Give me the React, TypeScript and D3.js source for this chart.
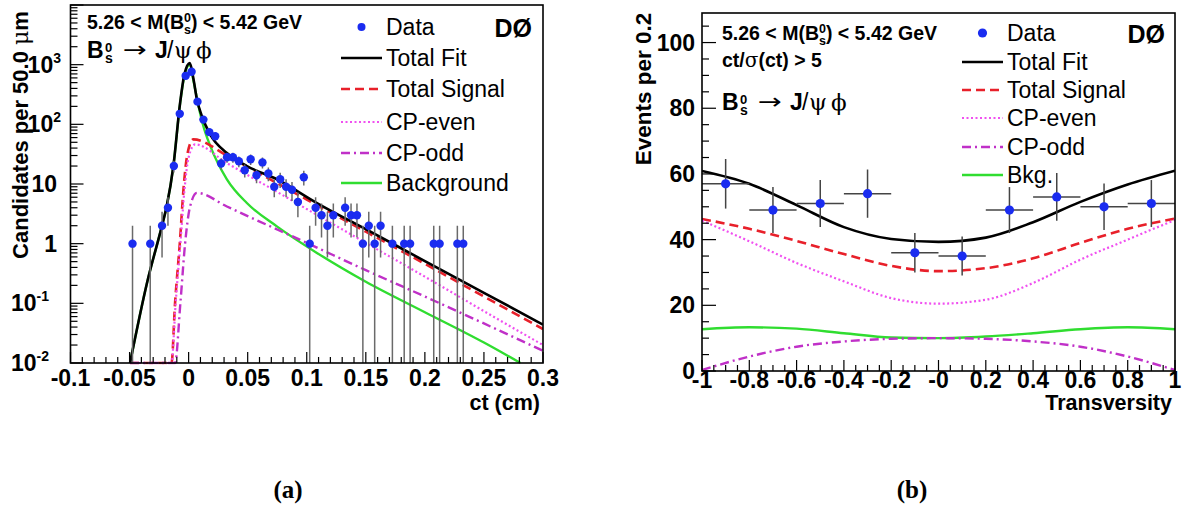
import * as d3 from 'd3';
import React from 'react';

// (a) proper decay length, 50 um bins
const ctBins = [-0.0475, -0.0325, -0.0225, -0.0175, -0.0125, -0.0075, -0.0025, 0.0025, 0.0075, 0.0125, 0.0175, 0.0225, 0.0275, 0.0325, 0.0375, 0.0425, 0.0475, 0.0525, 0.0575, 0.0625, 0.0675, 0.0725, 0.0775, 0.0825, 0.0875, 0.0925, 0.0975, 0.1025, 0.1075, 0.1125, 0.1175, 0.1225, 0.1325, 0.1375, 0.1425, 0.1475, 0.1525, 0.1575, 0.1625, 0.1725, 0.1825, 0.1875, 0.2075, 0.2125, 0.2275, 0.2325];
const ctCounts = [1, 1, 2, 4, 20, 150, 650, 760, 240, 120, 74, 63, 22, 28, 28, 24, 17, 26, 14, 23, 15, 9, 12, 9, 8, 5, 13, 1, 4, 3, 2, 3, 4, 3, 3, 1, 2, 1, 2, 1, 1, 1, 1, 1, 1, 1];

const fitCt = [-0.0496, -0.035, -0.0227, -0.0185, -0.0129, -0.0072, -0.0035, 0.001, 0.0041, 0.007, 0.0112, 0.0182, 0.0324, 0.0493, 0.0747, 0.1086, 0.15, 0.2, 0.25, 0.3];
const fitVal = [0.01, 0.23, 1.95, 4.3, 20, 230, 700, 1060, 575, 263, 138, 68, 33, 20, 12, 4.8, 1.75, 0.51, 0.15, 0.044];
const sigCt = [-0.0496, -0.0145, -0.0115, -0.0075, -0.004, -0.001, 0.004, 0.0324, 0.05, 0.1, 0.15, 0.2, 0.25, 0.3];
const sigVal = [0.01, 0.01, 0.1, 1, 10, 32, 56, 30, 19.3, 5.5, 1.59, 0.46, 0.13, 0.037];
const evenCt = [-0.0496, -0.0145, -0.011, -0.007, -0.0035, 0, 0.0055, 0.0324, 0.0747, 0.1, 0.15, 0.2, 0.25, 0.3];
const evenVal = [0.01, 0.01, 0.1, 1, 8, 28, 46, 22.4, 7.4, 3.8, 1.03, 0.28, 0.074, 0.02];
const oddCt = [-0.0496, -0.0115, -0.007, -0.003, 0.001, 0.007, 0.0324, 0.05, 0.1, 0.15, 0.2, 0.25, 0.3];
const oddVal = [0.01, 0.01, 0.1, 1, 4, 7.1, 4.2, 2.9, 1.03, 0.36, 0.13, 0.046, 0.016];
const bkgCt = [-0.0496, -0.035, -0.0227, -0.0185, -0.0129, -0.0072, -0.0035, 0.001, 0.0041, 0.0083, 0.0125, 0.0182, 0.0324, 0.0493, 0.0747, 0.1086, 0.15, 0.2, 0.25, 0.2809];
const bkgVal = [0.01, 0.23, 1.95, 4.3, 20, 225, 660, 1000, 540, 205, 93, 44, 12, 4.8, 1.95, 0.7, 0.23, 0.071, 0.022, 0.01];

const ctTicks = [-0.1, -0.05, 0, 0.05, 0.1, 0.15, 0.2, 0.25, 0.3];
const ctTickLabels = ['-0.1', '-0.05', '0', '0.05', '0.1', '0.15', '0.2', '0.25', '0.3'];

// (b) transversity
const trBins = [-0.9, -0.7, -0.5, -0.3, -0.1, 0.1, 0.3, 0.5, 0.7, 0.9];
const trCounts = [57, 49, 51, 54, 36, 35, 49, 53, 50, 51];
const trCurveX = [-1, -0.8, -0.6, -0.4, -0.2, 0, 0.2, 0.4, 0.6, 0.8, 1];
const trFit = [60.9, 57, 50.5, 43.8, 40.2, 39.3, 40.6, 45.3, 51.5, 56.8, 61];
const trSignal = [46.3, 43.3, 39.6, 35.6, 32, 30.4, 31.3, 34.3, 39, 43.3, 46.4];
const trEven = [45.8, 39.5, 32.9, 27.3, 22.2, 20.5, 21.7, 26.8, 33.9, 40, 46];
const trOdd = [0.3, 4.4, 7.4, 9, 9.8, 10, 9.8, 9, 7.4, 4.4, 0.3];
const trBkg = [12.7, 13.3, 12.9, 11.5, 10.2, 10, 10.5, 11.5, 12.7, 13.3, 12.7];

const trTicks = [-1, -0.8, -0.6, -0.4, -0.2, 0, 0.2, 0.4, 0.6, 0.8, 1];
const trTickLabels = ['-1', '-0.8', '-0.6', '-0.4', '-0.2', '-0', '0.2', '0.4', '0.6', '0.8', '1'];
const evTicks = [0, 20, 40, 60, 80, 100];

const legendLeft = ['Data', 'Total Fit', 'Total Signal', 'CP-even', 'CP-odd', 'Background'];
const legendRight = ['Data', 'Total Fit', 'Total Signal', 'CP-even', 'CP-odd', 'Bkg.'];

const SANS = "'Liberation Sans', Arial, Helvetica, sans-serif";
const SERIF = "'Liberation Serif', 'Times New Roman', serif";
const GREEK = "'DejaVu Serif', 'Liberation Serif', serif";
const DOT = '#1a2cf0';

const sty = {
  fit: { stroke: '#000', dash: undefined, w: 2.6 },
  sig: { stroke: '#e8202a', dash: '9,5', w: 2.6 },
  even: { stroke: '#f050f0', dash: '2,2.5', w: 2.2 },
  odd: { stroke: '#c030c8', dash: '9,4,2,4', w: 2.4 },
  bkg: { stroke: '#30dd30', dash: undefined, w: 2.4 },
};
// drawing order: bkg, signal, even, odd, fit on top
const drawStyle = [sty.bkg, sty.sig, sty.even, sty.odd, sty.fit];
const legendStyle = [sty.fit, sty.sig, sty.even, sty.odd, sty.bkg];

const zip = (a: number[], b: number[]) => a.map((v, i) => [v, b[i]] as [number, number]);

function Mass({ x, y }: { x: number; y: number }) {
  return (
    <text x={x} y={y} fontFamily={SANS} fontWeight="bold" fontSize={19.5}>
      5.26 &lt; M(B<tspan dy={-7} fontSize={12.5}>0</tspan>
      <tspan dx={-7} dy={12} fontSize={12.5}>s</tspan>
      <tspan dy={-5}>) &lt; 5.42 GeV</tspan>
    </text>
  );
}

function Decay({ x, y }: { x: number; y: number }) {
  return (
    <g fontWeight="bold">
      <text x={x} y={y} fontFamily={SANS} fontSize={23}>B</text>
      <text x={x + 18} y={y - 6} fontFamily={SANS} fontSize={13}>0</text>
      <text x={x + 18} y={y + 5} fontFamily={SANS} fontSize={14}>s</text>
      <text x={x + 36} y={y - 1} fontFamily="'DejaVu Sans', sans-serif" fontWeight="normal" fontSize={22} textLength={24} lengthAdjust="spacingAndGlyphs">→</text>
      <text x={x + 68} y={y} fontFamily={SANS} fontSize={23}>J</text>
      <text x={x + 80} y={y} fontFamily={SANS} fontWeight="normal" fontSize={23}>/</text>
      <text x={x + 87} y={y} fontFamily={GREEK} fontWeight="normal" fontSize={23}>ψ</text>
      <text x={x + 109} y={y} fontFamily={GREEK} fontWeight="normal" fontSize={23}>ϕ</text>
    </g>
  );
}

function Legend({ names, x0, x1, rows, r }: { names: string[]; x0: number; x1: number; rows: number[]; r: number }) {
  return (
    <g fontFamily={SANS} fontSize={23}>
      {names.map((n, i) => (
        <g key={n}>
          {i === 0 ? (
            <circle cx={(x0 + x1) / 2} cy={rows[i]} r={r} fill={DOT} />
          ) : (
            <line x1={x0} x2={x1} y1={rows[i]} y2={rows[i]} stroke={legendStyle[i - 1].stroke}
              strokeWidth={legendStyle[i - 1].w} strokeDasharray={legendStyle[i - 1].dash} />
          )}
          <text x={x1 + 4} y={rows[i] + 8}>{n}</text>
        </g>
      ))}
    </g>
  );
}

function LeftPanel() {
  const L = 70.5, R = 543, T = 5, B = 363;
  const x = d3.scaleLinear().domain([-0.1, 0.3]).range([L, R]);
  const y = d3.scaleLog().domain([1e-2, 1e4]).range([B, T]).clamp(true);
  const line = d3.line<[number, number]>().x(d => x(d[0])).y(d => y(d[1])).curve(d3.curveMonotoneX);
  const curves = [zip(bkgCt, bkgVal), zip(sigCt, sigVal), zip(evenCt, evenVal), zip(oddCt, oddVal), zip(fitCt, fitVal)];
  const yTicks = y.ticks();
  const minorX = d3.range(-0.1, 0.3001, 0.01);
  return (
    <g>
      <defs>
        <clipPath id="clipA"><rect x={L} y={T} width={R - L} height={B - T + 1.5} /></clipPath>
      </defs>
      <g clipPath="url(#clipA)" fill="none">
        {curves.map((c, i) => (
          <path key={i} d={line(c) || ''} stroke={drawStyle[i].stroke} strokeWidth={drawStyle[i].w}
            strokeDasharray={drawStyle[i].dash} />
        ))}
        {ctBins.map((b, i) => {
          const n = ctCounts[i], e = Math.sqrt(n);
          return <line key={i} x1={x(b)} x2={x(b)} y1={y(Math.max(n - e, 1e-3))} y2={y(n + e)} stroke="#6a6a6a" strokeWidth={1.5} />;
        })}
        {ctBins.map((b, i) => <circle key={i} cx={x(b)} cy={y(ctCounts[i])} r={4.2} fill={DOT} />)}
      </g>
      <g stroke="#000" strokeWidth={1.2}>
        {yTicks.map((t, i) => {
          const major = Math.abs(Math.log10(t) - Math.round(Math.log10(t))) < 1e-6;
          return <line key={i} x1={L} x2={L + (major ? 13 : 7)} y1={y(t)} y2={y(t)} />;
        })}
        {minorX.map((t, i) => {
          const major = Math.abs(t / 0.05 - Math.round(t / 0.05)) < 1e-6;
          return <line key={i} x1={x(t)} x2={x(t)} y1={B} y2={B - (major ? 11 : 6)} />;
        })}
      </g>
      <rect x={L} y={T} width={R - L} height={B - T} fill="none" stroke="#000" strokeWidth={1.6} />
      <g fontFamily={SANS} fontWeight="bold" fontSize={23}>
        {ctTicks.map((t, i) => (
          <text key={i} x={x(t)} y={386} textAnchor="middle">{ctTickLabels[i]}</text>
        ))}
        {[-2, -1, 0, 1, 2, 3].map(p => {
          const yy = y(Math.pow(10, p)) + 8;
          if (p === 0) return <text key={p} x={57} y={yy} textAnchor="end">1</text>;
          if (p === 1) return <text key={p} x={57} y={yy} textAnchor="end">10</text>;
          return (
            <text key={p} x={p < 0 ? 49 : 61} y={yy} textAnchor="end">
              10<tspan dy={-10} fontSize={14}>{p}</tspan>
            </text>
          );
        })}
      </g>
      <text x={540} y={410} textAnchor="end" fontFamily={SANS} fontWeight="bold" fontSize={21.5}>ct (cm)</text>
      <text transform="translate(28,135) rotate(-90)" textAnchor="middle" fontFamily={SANS} fontWeight="bold" fontSize={22}>
        Candidates per 50.0 <tspan fontFamily={GREEK} fontWeight="normal">μ</tspan>m
      </text>
      <Mass x={87} y={29} />
      <Decay x={87} y={58} />
      <Legend names={legendLeft} x0={341} x1={382} rows={[27, 58, 89, 122, 153, 183]} r={4} />
      <text x={532} y={37} textAnchor="end" fontFamily={SANS} fontWeight="bold" fontSize={25}>DØ</text>
    </g>
  );
}

function RightPanel() {
  const L = 702, R = 1175, T = 13, B = 371;
  const x = d3.scaleLinear().domain([-1, 1]).range([L, R]);
  const y = d3.scaleLinear().domain([0, 109]).range([B, T]);
  const line = d3.line<[number, number]>().x(d => x(d[0])).y(d => y(d[1])).curve(d3.curveMonotoneX);
  const curves = [trBkg, trSignal, trEven, trOdd, trFit].map(v => zip(trCurveX, v));
  const minorY = d3.range(0, 106, 5);
  const minorX = d3.range(-1, 1.0001, 0.05);
  return (
    <g>
      <defs>
        <clipPath id="clipB"><rect x={L} y={T} width={R - L} height={B - T} /></clipPath>
      </defs>
      <g clipPath="url(#clipB)" fill="none">
        {curves.map((c, i) => (
          <path key={i} d={line(c) || ''} stroke={drawStyle[i].stroke} strokeWidth={drawStyle[i].w}
            strokeDasharray={drawStyle[i].dash} />
        ))}
        {trBins.map((b, i) => {
          const n = trCounts[i], e = Math.sqrt(n);
          return (
            <g key={i} stroke="#444" strokeWidth={1.5}>
              <line x1={x(b)} x2={x(b)} y1={y(n - e)} y2={y(n + e)} />
              <line x1={x(b - 0.1)} x2={x(b + 0.1)} y1={y(n)} y2={y(n)} />
            </g>
          );
        })}
        {trBins.map((b, i) => <circle key={i} cx={x(b)} cy={y(trCounts[i])} r={4.6} fill={DOT} />)}
      </g>
      <g stroke="#000" strokeWidth={1.2}>
        {minorY.map((t, i) => <line key={i} x1={L} x2={L + (t % 20 === 0 ? 14 : 7)} y1={y(t)} y2={y(t)} />)}
        {minorX.map((t, i) => {
          const major = Math.abs(t / 0.2 - Math.round(t / 0.2)) < 1e-6;
          return <line key={i} x1={x(t)} x2={x(t)} y1={B} y2={B - (major ? 11 : 6)} />;
        })}
      </g>
      <rect x={L} y={T} width={R - L} height={B - T} fill="none" stroke="#000" strokeWidth={1.6} />
      <g fontFamily={SANS} fontWeight="bold" fontSize={23}>
        {trTicks.map((t, i) => (
          <text key={i} x={x(t)} y={388} textAnchor="middle">{trTickLabels[i]}</text>
        ))}
        {evTicks.map(t => (
          <text key={t} x={695} y={y(t) + 8} textAnchor="end">{t}</text>
        ))}
      </g>
      <text x={1172} y={410} textAnchor="end" fontFamily={SANS} fontWeight="bold" fontSize={21.5}>Transversity</text>
      <text transform="translate(651,89) rotate(-90)" textAnchor="middle" fontFamily={SANS} fontWeight="bold" fontSize={22.5}>
        Events per 0.2
      </text>
      <Mass x={722} y={40} />
      <text x={722} y={67} fontFamily={SANS} fontWeight="bold" fontSize={19.5}>
        ct/<tspan fontFamily={GREEK} fontWeight="normal" fontSize={20}>σ</tspan>(ct) &gt; 5
      </text>
      <Decay x={722} y={110} />
      <Legend names={legendRight} x0={962} x1={1003} rows={[33, 62, 90, 118, 147, 175]} r={4.6} />
      <text x={1165} y={43} textAnchor="end" fontFamily={SANS} fontWeight="bold" fontSize={25}>DØ</text>
    </g>
  );
}

export default function App() {
  return (
    <svg width={1187} height={505} style={{ position: 'absolute', left: 0, top: 0, background: '#fff' }}>
      <rect width={1187} height={505} fill="#fff" />
      <LeftPanel />
      <RightPanel />
      <text x={288} y={498} textAnchor="middle" fontFamily={SERIF} fontWeight="bold" fontSize={25}>(a)</text>
      <text x={912} y={498} textAnchor="middle" fontFamily={SERIF} fontWeight="bold" fontSize={25}>(b)</text>
    </svg>
  );
}
